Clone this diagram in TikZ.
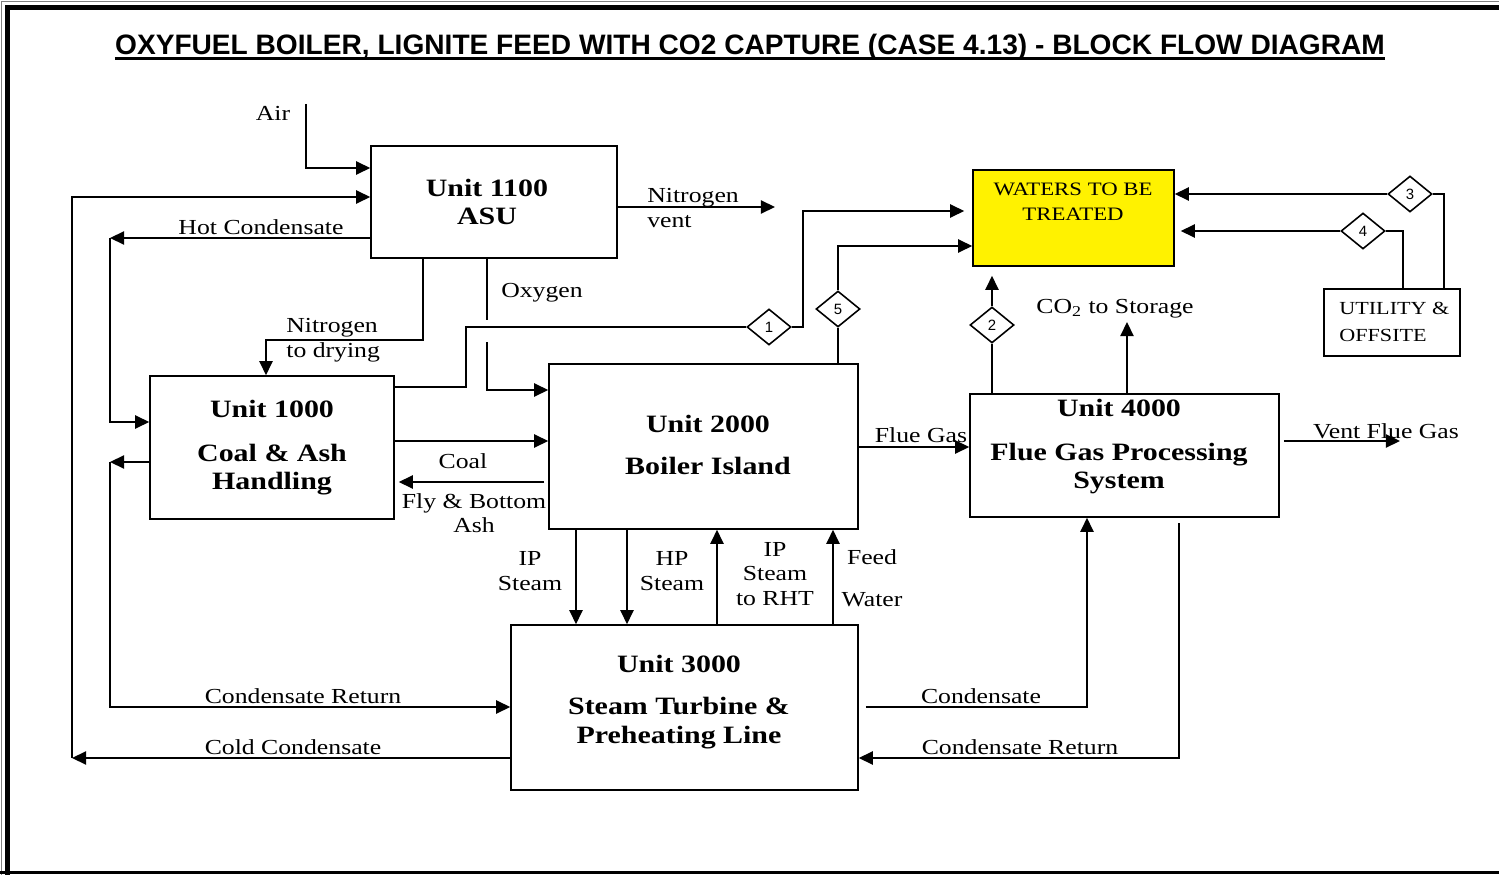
\documentclass[tikz,border=0pt]{standalone}
\usepackage{fontspec}
\setmainfont{Liberation Serif}[FakeStretch=1.2]
\newfontfamily\titlefont{Liberation Sans}
\newfontfamily\numfont{Liberation Sans}
\usepackage{tikz}
\usetikzlibrary{arrows.meta,shapes.geometric}

\begin{document}
\begin{tikzpicture}[x=0.02cm,y=-0.02cm,
  flow/.style={line width=0.9pt,-{Triangle[length=8pt,width=7.5pt]}},
  pipe/.style={line width=0.9pt},
  unit/.style={draw,line width=0.9pt,inner sep=0pt,align=center,
    font=\fontsize{14.2}{16}\selectfont\bfseries},
  lbl/.style={inner sep=0pt,align=center,font=\fontsize{12.2}{14}\selectfont},
  tag/.style={draw,diamond,line width=0.9pt,fill=white,inner sep=0pt,
    minimum width=0.88cm,minimum height=0.72cm,font=\numfont\fontsize{8.5}{10}\selectfont}]
\useasboundingbox (0,0) rectangle (1499,875);
\clip (0,0) rectangle (1499,875);
% frame
\draw[line width=0.6pt,gray] (1.5,880) -- (1.5,1.5) -- (1505,1.5);
\draw[line width=0.1cm] (7.5,880) -- (7.5,7.5) -- (1505,7.5);
\draw[line width=1.5pt] (0,872.5) -- (1505,872.5);
% title
\node[inner sep=0pt,anchor=base,font=\titlefont\fontsize{16}{18}\selectfont\bfseries] (title) at (750,55)
  {OXYFUEL BOILER, LIGNITE FEED WITH CO2 CAPTURE (CASE 4.13) - BLOCK FLOW DIAGRAM};
\draw[line width=1.4pt] ([yshift=-0.07cm]title.base west) -- ([yshift=-0.07cm]title.base east);

% units
\node[unit,minimum width=4.92cm,minimum height=2.24cm] (asu) at (494,202) {};
\node[lbl,font=\fontsize{14.2}{16}\selectfont\bfseries] (asutxt) at (487,202) {Unit 1100\\ASU};
\node[unit,minimum width=4.88cm,minimum height=2.86cm] (u1000) at (272,447.5) {Unit 1000\\[9pt]Coal \& Ash\\Handling};
\node[unit,minimum width=6.18cm,minimum height=3.3cm] (u2000) at (703.5,446.5) {};
\node[lbl,font=\fontsize{14.2}{16}\selectfont\bfseries] (u2000txt) at (708,445) {Unit 2000\\[8pt]Boiler Island};
\node[unit,minimum width=6.18cm,minimum height=2.46cm] (u4000) at (1124.5,455.5) {};
\node[lbl,font=\fontsize{14.2}{16}\selectfont\bfseries] (u4000txt) at (1119,447) {Unit 4000\\[9pt]Flue Gas Processing\\System};
\node[unit,minimum width=6.94cm,minimum height=3.3cm] (u3000) at (684.5,707.5) {};
\node[lbl,font=\fontsize{14.2}{16}\selectfont\bfseries] (u3000txt) at (679,702) {Unit 3000\\[8pt]Steam Turbine \&\\Preheating Line};
\node[draw,line width=0.9pt,fill=yellow,minimum width=4.02cm,minimum height=1.92cm] (waters) at (1073.5,218) {};
\node[lbl,anchor=north,font=\fontsize{10.8}{14}\selectfont] (waterstxt) at (1073,183) {WATERS TO BE\\TREATED};
\node[draw,line width=0.9pt,minimum width=2.72cm,minimum height=1.34cm] (util) at (1392,322.5) {};
\node[lbl,anchor=west,align=left,font=\fontsize{10.5}{15}\selectfont] (utiltxt) at (1339,322) {UTILITY \&\\OFFSITE};

% stream tags
\node[tag] (d1) at (769,327) {1};
\node[tag] (d5) at (838,309) {5};
\node[tag] (d2) at (992,325) {2};
\node[tag] (d3) at (1410,194) {3};
\node[tag] (d4) at (1363,231) {4};

% free ends
\coordinate (airin) at (306,104);
\coordinate (coldc) at (72,758);
\coordinate (hotc) at (110,238);
\coordinate (condret) at (110,462);
\coordinate (n2vent) at (775,207);
\coordinate (co2out) at (1127,322);
\coordinate (ventfg) at (1400,441);

% ASU connections
\draw[flow] (airin) |- (asu.west |- 0,168);
\draw[flow] (u3000.west |- coldc) -- (coldc);
\draw[flow] (coldc) |- (asu.west |- 0,197);
\draw[flow] (asu.west |- hotc) -- (hotc);
\draw[flow] (hotc) |- (u1000.west |- 0,422);
\draw[flow] (u1000.west |- condret) -- (condret);
\draw[flow] (condret) |- (u3000.west |- 0,707);
\draw[flow] (asu.south -| 423,0) |- (266,340) -- (u1000.north -| 266,0);
\draw[pipe] (asu.south -| 487,0) -- (487,320);
\draw[flow] (487,342) |- (u2000.west |- 0,390);
\draw[flow] (asu.east |- n2vent) -- (n2vent);

% waters to be treated
\draw[pipe] (u1000.east |- 0,387) -| (466,327) -- (d1.west);
\draw[flow,shorten >=0.16cm] (d1.east) -| (803,211) -- (waters.west |- 0,211);
\draw[pipe] (u2000.north -| d5) -- (d5.south);
\draw[flow] (d5.north) |- (waters.west |- 0,246);
\draw[pipe] (u4000.north -| d2) -- (d2.south);
\draw[flow,shorten >=0.18cm] (d2.north) -- (waters.south -| d2);
\draw[pipe] (util.north -| 1444,0) |- (d3.east);
\draw[flow] (d3.west) -- (waters.east |- d3);
\draw[pipe] (util.north -| 1403,0) |- (d4.east);
\draw[flow,shorten >=0.12cm] (d4.west) -- (waters.east |- d4);

% process streams
\draw[flow] (u1000.east |- 0,441) -- (u2000.west |- 0,441);
\draw[flow,shorten <=0.08cm,shorten >=0.08cm] (u2000.west |- 0,482) -- (u1000.east |- 0,482);
\draw[flow] (u2000.east |- 0,447) -- (u4000.west |- 0,447);
\draw[flow,shorten <=0.08cm] (u4000.east |- ventfg) -- (ventfg);
\draw[flow] (u4000.north -| co2out) -- (co2out);
\draw[flow] (u2000.south -| 576,0) -- (u3000.north -| 576,0);
\draw[flow] (u2000.south -| 627,0) -- (u3000.north -| 627,0);
\draw[flow] (u3000.north -| 717,0) -- (u2000.south -| 717,0);
\draw[flow] (u3000.north -| 833,0) -- (u2000.south -| 833,0);
\draw[flow,shorten <=0.14cm] (u3000.east |- 0,707) -| (u4000.south -| 1087,0);
\draw[flow] (1179,523) |- (u3000.east |- 0,758);

% stream labels
\node[lbl] (lair) at (273,113) {Air};
\node[lbl] (lhot) at (261,227) {Hot Condensate};
\node[lbl,anchor=west,align=left] (ln2dry) at (286,340) {Nitrogen\\to drying};
\node[lbl] (lox) at (542,293) {Oxygen};
\node[lbl,anchor=west,align=left] (ln2vent) at (647,208) {Nitrogen\\vent};
\node[lbl] (lco2) at (1115,309) {CO\textsubscript{2} to Storage};
\node[lbl] (lcoal) at (463,461) {Coal};
\node[lbl] (lash) at (474,513) {Fly \& Bottom\\Ash};
\node[lbl] (lflue) at (921,435) {Flue Gas};
\node[lbl] (lvent) at (1386,431) {Vent Flue Gas};
\node[lbl] (lip) at (530,571) {IP\\Steam};
\node[lbl] (lhp) at (672,571) {HP\\Steam};
\node[lbl] (lrht) at (775,574) {IP\\Steam\\to RHT};
\node[lbl] (lfw) at (872,578) {Feed\\[10pt]Water};
\node[lbl] (lcr1) at (303,696) {Condensate Return};
\node[lbl] (lcold) at (293,747) {Cold Condensate};
\node[lbl] (lcond) at (981,696) {Condensate};
\node[lbl] (lcr2) at (1020,747) {Condensate Return};
\end{tikzpicture}
\end{document}
